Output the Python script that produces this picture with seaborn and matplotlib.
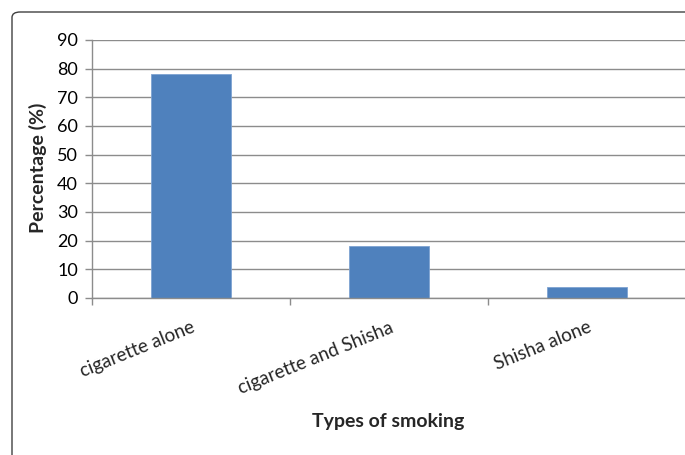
import matplotlib
matplotlib.use("Agg")
import matplotlib.pyplot as plt
import seaborn as sns
import pandas as pd
from matplotlib.patches import FancyBboxPatch

categories = ["cigarette alone", "cigarette and Shisha", "Shisha alone"]
percentages = [78, 18, 4]
y_ticks = [0, 10, 20, 30, 40, 50, 60, 70, 80, 90]

sns.set_theme(style="white")
plt.rcParams['font.family'] = ['Lato', 'DejaVu Sans']

df = pd.DataFrame({"type": categories, "pct": percentages})

W, H = 685, 455
fig = plt.figure(figsize=(W / 100, H / 100), dpi=100)
fig.patch.set_facecolor("white")

# rounded frame (extends past right and bottom edges)
frame = FancyBboxPatch((12 / W, -0.2), 1.2, 1.2 - 12 / H,
                       boxstyle="round,pad=0,rounding_size=0.012",
                       transform=fig.transFigure, fill=False,
                       edgecolor="#404040", linewidth=1.0)
fig.patches.append(frame)

ax = fig.add_axes([92 / W, (H - 298) / H, 594 / W, 258 / H])
sns.barplot(data=df, x="type", y="pct", color="#4f81bd", width=0.4,
            saturation=1, ax=ax, edgecolor="#7ea3d2", linewidth=0.6)

ax.set_xlim(-0.5, 2.5)
ax.set_ylim(0, 90)
ax.set_yticks(y_ticks)
ax.set_yticklabels([str(v) for v in y_ticks], fontsize=13, color="#000000")
ax.yaxis.grid(True, color="#8c8c8c", linewidth=1.0)
ax.set_axisbelow(True)

for s in ["top", "right"]:
    ax.spines[s].set_visible(False)
for s in ["left", "bottom"]:
    ax.spines[s].set_color("#8c8c8c")
    ax.spines[s].set_linewidth(1.0)

ax.tick_params(axis="y", which="major", left=True, length=5, width=1.0,
               color="#8c8c8c", pad=5)
# category boundary ticks on x
ax.set_xticks([-0.5, 0.5, 1.5, 2.5])
ax.set_xticklabels([])
ax.tick_params(axis="x", which="major", bottom=True, length=5, width=1.0,
               color="#8c8c8c")
ax.set_xticks([0, 1, 2], minor=True)
ax.set_xticklabels(categories, minor=True, rotation=22, ha="right",
                   rotation_mode="anchor", fontsize=13.5)
ax.tick_params(axis="x", which="minor", length=0, pad=15)

ax.set_xlabel("")
ax.set_ylabel("")
fig.text(388 / W, 1 - 421 / H, "Types of smoking", fontsize=14,
         fontweight="bold", ha="center", va="center")
fig.text(38 / W, 1 - 168 / H, "Percentage (%)", fontsize=14,
         fontweight="bold", ha="center", va="center", rotation=90)

fig.savefig("out.png", dpi=100, facecolor="white")
